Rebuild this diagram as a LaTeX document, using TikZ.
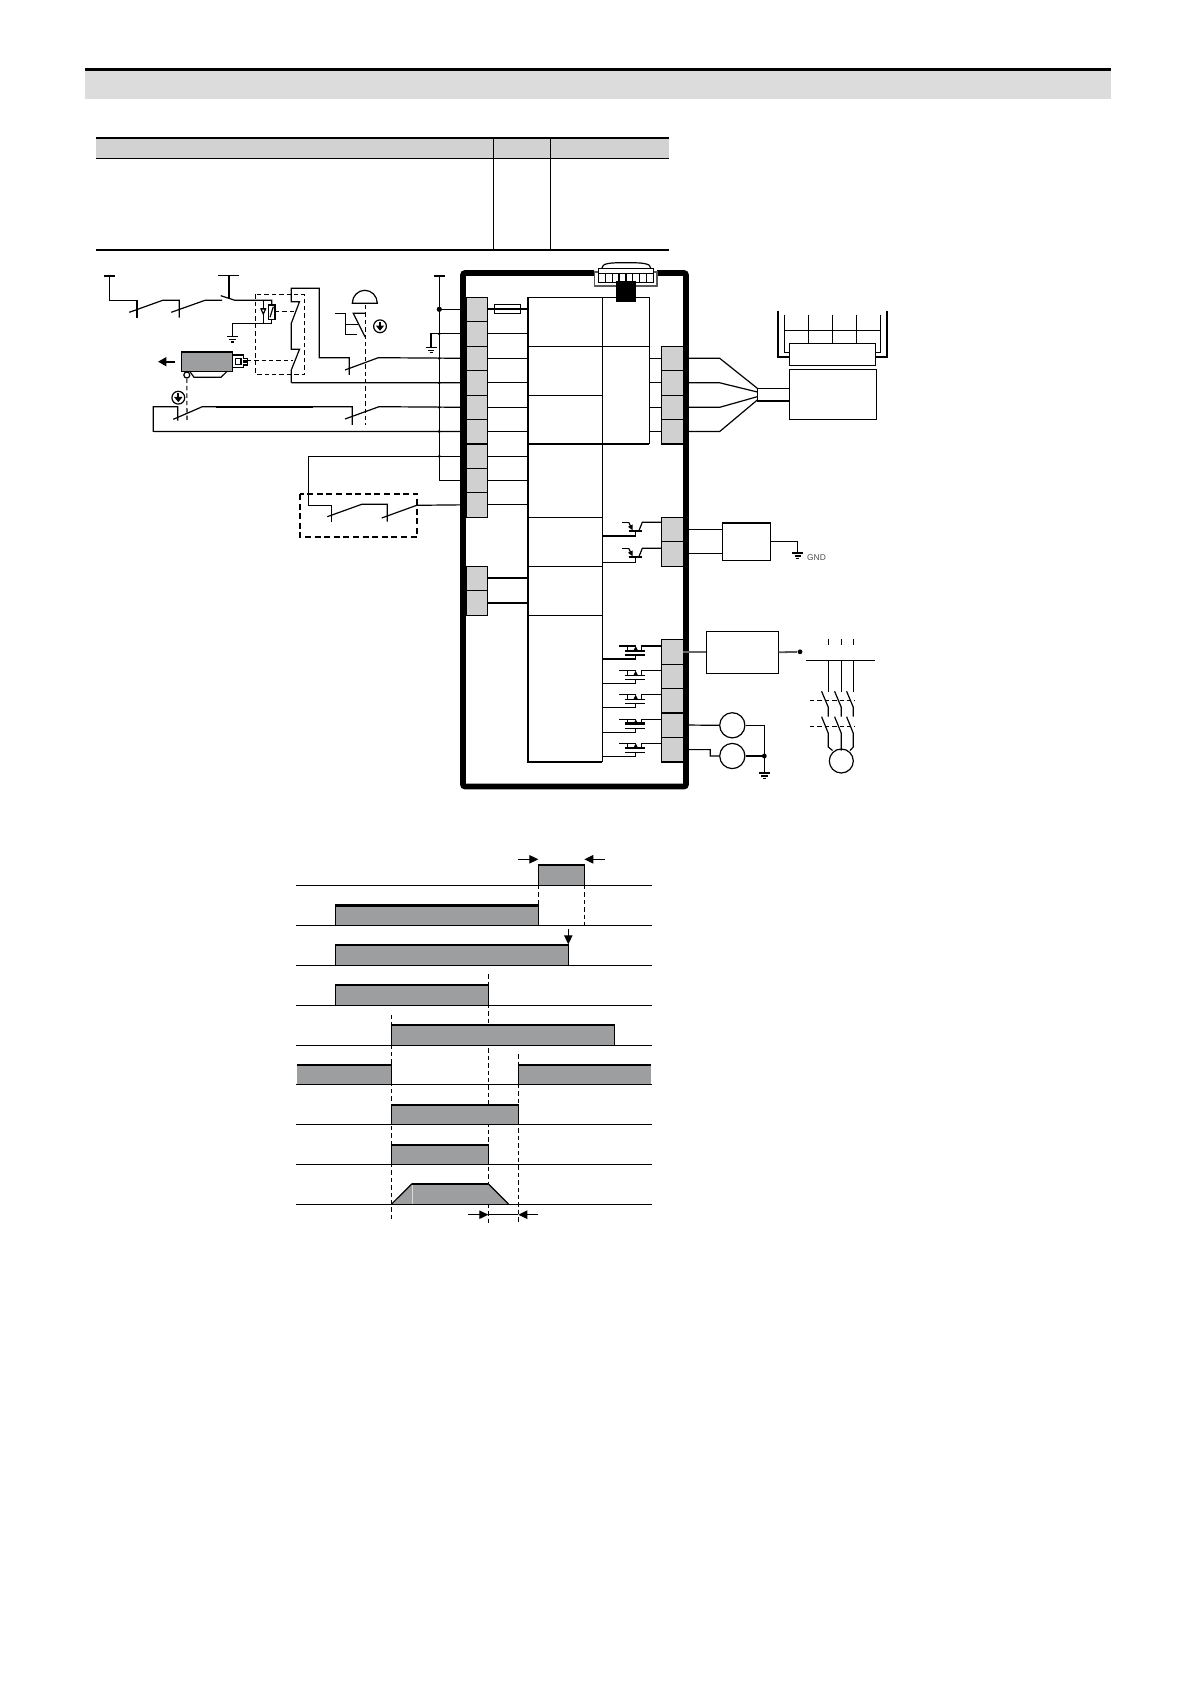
\documentclass[tikz,border=0pt]{standalone}
\usepackage{fontspec}
\setmainfont{Liberation Sans}
\usetikzlibrary{arrows.meta,calc}
\definecolor{termgrey}{HTML}{D0D0D0}
\definecolor{hdrgrey}{HTML}{DCDCDC}
\definecolor{tblgrey}{HTML}{D2D2D2}
\definecolor{bargrey}{HTML}{9C9EA0}
\tikzset{
  wire/.style={line width=0.6pt,line join=miter},
  hv/.style={line width=1.1pt},
  dsh/.style={line width=0.55pt,dash pattern=on 2.2pt off 1.5pt},
  term/.style={draw,line width=0.55pt,fill=termgrey},
  cell/.style={draw,line width=0.6pt},
  jdot/.style={circle,fill=black,inner sep=0pt,minimum size=2pt},
  ring/.style={circle,draw,line width=0.6pt,inner sep=0pt,fill=white},
  tiptri/.style={-{Triangle[length=4.5pt,width=4.2pt]}},
}
\newcommand\mkbox[6][]{%
  \pgfmathsetmacro\bxw{(#5-#3)*0.5}\pgfmathsetmacro\bxh{(#6-#4)*0.5}%
  \node[#1,minimum width=\bxw pt,minimum height=\bxh pt,inner sep=0pt,outer sep=0pt] (#2) at ({(#3+#5)/2},{(#4+#6)/2}) {};}
\newcommand\gndsym[2]{% x, y of top bar
  \draw[wire] (#1-5.5,#2)--(#1+5.5,#2) (#1-3.2,#2+3)--(#1+3.2,#2+3) (#1-1.5,#2+5.6)--(#1+1.5,#2+5.6);}
\newcommand\ringarrow[2]{%
  \draw[line width=0.6pt] (#1,#2) circle (6.4);
  \draw[line width=0.9pt,-{Triangle[length=2.6pt,width=4pt]}] (#1,#2-4.5)--(#1,#2+4.5);}
\newcommand\bjt[2]{% y of collector wire, y of base wire
  \draw[wire] (622,#1)--(628.7,#1);
  \draw[wire,-{Triangle[length=2.6pt,width=2.4pt]}] (628.7,#1)--(632.6,#1+8);
  \draw[wire] (661.3,#1)--(642.3,#1)--(638.9,#1+8.4);
  \draw[line width=1.1pt] (628.7,#1+8.4)--(642,#1+8.4);
  \draw[wire] (635.7,#1+8.4)--(635.7,#2)--(602.3,#2);}
\newcommand\fet[2]{% y of drain wire, y of gate wire
  \draw[wire] (619.3,#1)--(635.7,#1) (627.3,#1)--(627.3,#1+5);
  \draw[wire,-{Triangle[length=2.2pt,width=2pt]}] (635.7,#1+5)--(635.7,#1);
  \draw[wire] (661.3,#1)--(641.7,#1)--(641.7,#1+5);
  \draw[wire] (625,#1+5)--(645,#1+5) (625,#1+9)--(645,#1+9);
  \draw[wire] (635.7,#1+9)--(635.7,#2)--(602.3,#2);}
\newcommand\tbar[4]{% x1,x2,ytop,ybase
  \fill[bargrey] (#1,#3) rectangle (#2,#4);
  \draw[wire] (#1,#4)--(#1,#3) (#2,#3)--(#2,#4);
  \draw[line width=1.2pt] (#1-0.5,#3)--(#2+0.5,#3);}
\begin{document}
\begin{tikzpicture}[x=0.5pt,y=-0.5pt]
\useasboundingbox (0,0) rectangle (1191,1684);
% page header
\fill[hdrgrey] (85,70) rectangle (1111,99);
\draw[line width=1.5pt] (85,69.5)--(1111,69.5);
% table
\fill[tblgrey] (96,138) rectangle (669,158.5);
\draw[line width=1.1pt] (96,137.7)--(669,137.7);
\draw[wire] (96,158.5)--(669,158.5);
\draw[line width=1.1pt] (96,250)--(669,250);
\draw[wire] (493.5,138)--(493.5,250) (550.5,138)--(550.5,250);
% central blocks
\mkbox[cell]{a1}{528}{297.3}{602.3}{346.3}
\mkbox[cell]{a2}{528}{346.3}{602.3}{395.3}
\mkbox[cell]{a3}{528}{395.3}{602.3}{443.7}
\mkbox[cell]{a4}{528}{443.7}{602.3}{517.3}
\mkbox[cell]{a5}{528}{517.3}{602.3}{566.3}
\mkbox[cell]{a6}{528}{566.3}{602.3}{615.3}
\mkbox[cell]{a7}{528}{615.3}{602.3}{761.7}
\mkbox[cell]{b1}{602.3}{297.3}{649.3}{346.3}
\mkbox[cell]{b2}{602.3}{346.3}{649.3}{443.7}
\draw[hv] (528,297.3)--(528,761.7)--(602.3,761.7);
\draw[hv] (528,443.7)--(649.3,443.7);
% terminals, left
\mkbox[term]{L1}{466}{297.3}{487.7}{321.3}
\mkbox[term]{L2}{466}{321.3}{487.7}{346.3}
\mkbox[term]{L3}{466}{346.3}{487.7}{370.3}
\mkbox[term]{L4}{466}{370.3}{487.7}{395.3}
\mkbox[term]{L5}{466}{395.3}{487.7}{419.3}
\mkbox[term]{L6}{466}{419.3}{487.7}{443.7}
\mkbox[term]{L7}{466}{444.1}{487.7}{468.7}
\mkbox[term]{L8}{466}{468.3}{487.7}{492.3}
\mkbox[term]{L9}{466}{492.3}{487.7}{517.3}
\mkbox[term]{P1}{466}{566.3}{487.7}{590.3}
\mkbox[term]{P2}{466}{590.3}{487.7}{615.3}
% terminals, right
\mkbox[term]{R1}{661.3}{346.3}{683.3}{370.3}
\mkbox[term]{R2}{661.3}{370.3}{683.3}{395.3}
\mkbox[term]{R3}{661.3}{395.3}{683.3}{419.3}
\mkbox[term]{R4}{661.3}{419.3}{683.3}{443.7}
\mkbox[term]{S1}{661.3}{517.3}{683.3}{541.3}
\mkbox[term]{S2}{661.3}{541.3}{683.3}{566.3}
\mkbox[term]{T1}{661.3}{639.7}{683.3}{664.3}
\mkbox[term]{T2}{661.3}{664.3}{683.3}{688.3}
\mkbox[term]{T3}{661.3}{688.3}{683.3}{712.7}
\mkbox[term]{T4}{661.3}{712.7}{683.3}{737.3}
\mkbox[term]{T5}{661.3}{737.3}{683.3}{762}
\draw[hv] (466,443.7)--(487.7,443.7) (661.3,443.7)--(683.3,443.7) (661.3,712.7)--(683.3,712.7) (661.3,762)--(683.3,762);
% wires inside, left
\draw[hv] (L1.east)--(L1.east -| a1.west);
\mkbox[draw,line width=0.55pt]{fuse}{494.3}{304.3}{520.7}{313.3}
\foreach \n/\c in {L2/a1,L3/a2,L4/a2,L5/a3,L6/a3,L7/a4,L8/a4,L9/a4}
  \draw[wire] (\n.east)--(\n.east -| \c.west);
\draw[hv] (P1.east)--(P1.east -| a6.west) (P2.east)--(P2.east -| a6.west);
% wires inside, right
\foreach \n/\c in {R1/b2,R2/b2,R3/b2,R4/b2}
  \draw[wire] (\n.west)--(\n.west -| \c.east);
\bjt{522.3}{536}
\bjt{548.3}{562.3}
\fet{646}{659}
\fet{670.7}{683.3}
\fet{694.7}{707.3}
\fet{719.3}{732.3}
\fet{743.3}{756.3}
\draw[hv] (602.3,659)--(635.7,659);
\draw[hv] (625,723.3)--(645,723.3) (625,743.3+5)--(645,743.3+5);
% bus
\coordinate (busT) at (439.3,276);
\coordinate (busB) at (439.3,480.3);
\draw[wire] (434,276)--(444.7,276);
\draw[wire] (busT)--(busB)--(L8.west);
\draw[wire] (busT |- L1.west)--(L1.west);
\node[jdot,minimum size=2.6pt] (j1) at (busT |- L1.west) {};
\coordinate (g1) at (431,346.7);
\draw[wire] (L2.west)--(g1 |- L2.west)--(g1);
\gndsym{431}{347.2}
\foreach \n in {L2,L3,L4,L5,L6,L7}
  \node[jdot,minimum size=1.6pt] at (busT |- \n.west) {};
% top left chain
\draw[wire] (104,276)--(115,276);
\draw[wire] (109.3,276)--(109.3,300.3)--(137,300.3);
\draw[line width=1pt] (137,300.3)--(137,317.7);
\draw[wire] (129.3,312.3)--(162.7,300.3)--(179.3,300.3)--(179.3,317.7);
\draw[wire] (171.3,312.3)--(205,300.3)--(222,300.3);
\draw[wire] (218.3,275.7)--(239,275.7);
\draw[wire] (229,275.7)--(229,299);
\draw[wire] (220.7,295.7)--(235,300.3)--(271.7,300.3)--(271.7,305);
% relay
\draw[dsh] (255.7,294.3) rectangle (304.3,374.3);
\draw[wire] (263.3,300.3)--(263.3,323.3);
\draw[wire,fill=white] (261,309)--(265.6,309)--(263.3,314)--cycle;
\draw[line width=0.8pt] (260.5,308.5)--(266,308.5);
\mkbox[draw,line width=0.6pt]{coil}{268.3}{305}{275}{319.7}
\draw[wire] (270,317.3)--(273.3,306.7);
\draw[wire] (271.7,319.7)--(271.7,323.3)--(232.3,323.3)--(232.3,336);
\gndsym{232.3}{336.5}
\draw[dsh] (275,311.3)--(294,311.3);
\draw[dsh] (246.7,360.7)--(293.3,360.7);
% safety contacts
\draw[wire] (291.3,382.7)--(291.3,370)--(299.5,349.3)--(291.3,349.3)--(291.3,323.3)--(299.5,301.7)--(291.3,301.7)--(291.3,288.3)--(319.3,288.3)--(319.3,357.7)--(349.3,357.7)--(349.3,375);
\draw[wire] (345,370)--(378.3,357.7)--(L3.west);
\draw[wire] (291.3,382.7)--(L4.west);
% gate switch
\draw[wire,fill=white] (232.3,355)--(243.3,355)--(243.3,358.3)--(247.7,358.3)--(247.7,361)--(243.8,361)--(243.8,362.5)--(247.7,362.5)--(247.7,365)--(243.3,365)--(243.3,367.7)--(232.3,367.7)--cycle;
\draw[wire] (235.2,358.3) rectangle (241,364.3);
\mkbox[draw,line width=0.6pt,fill=bargrey]{gsw}{181.5}{352}{232.5}{371.7}
\draw[line width=1.1pt] (181.5,352)--(232.5,352);
\draw[wire] (190,371.7)--(194,377.3)--(221,377.3)--(226.7,371.7);
\draw[line width=1.1pt,-{Triangle[length=4.2pt,width=4.4pt]}] (175,361.7)--(158,361.7);
\node[ring,minimum size=3pt] (gr) at (186.8,375) {};
\draw[dsh] (gr.south)--(187,420);
\ringarrow{178.3}{397.7}
% lower contacts
\draw[wire] (L6.west)--(153.3,431.4)--(153.3,406.7)--(177.7,406.7)--(177.7,420.7);
\draw[wire] (173.3,419.3)--(202.3,406.7)--(352.3,406.7)--(352.3,425);
\draw[hv] (216,406.7)--(313,406.7);
\draw[wire] (345,419)--(379,406.7)--(L5.west);
% e-stop
\draw[wire,fill=white] (352.3,303.3) arc[start angle=180,end angle=360,x radius=12.5,y radius=13]--cycle;
\draw[dsh] (365.3,305)--(365.3,425);
\draw[wire] (335,313.3)--(345.7,313.3)--(345.7,334.3)--(356.7,334.3);
\draw[wire] (345.7,324.3)--(358,324.3);
\draw[wire] (365,313.3)--(353.3,313.3)--(365,336.7);
\ringarrow{380}{326.3}
% lower left
\draw[wire] (L7.west)--(L7.west -| 308.3,0)--(308.3,505.3)--(331.7,505.3)--(331.7,521.7);
\draw[wire] (327.3,516.7)--(361.7,504.3)--(387.3,504.3)--(387.3,521.7);
\draw[wire] (381.7,518)--(416.7,505.3)--(L9.west);
\draw[line width=0.85pt,dash pattern=on 3pt off 1.8pt] (299.7,494) rectangle (417.3,536.7);
% frame
\draw[line width=2.8pt,rounded corners=1pt] (594,273)--(463,273)--(463,786.5)--(686,786.5)--(686,273)--(657,273);
% keypad
\draw[line width=0.55pt,draw=black!65,fill=white] (594.3,272)--(594.3,286)--(657,286)--(657,272)--cycle;
\draw[wire,fill=white] (601.7,268.7) .. controls (601.7,263) and (610,262.7) .. (626,262.7) .. controls (642,262.7) and (651,263) .. (651,268.7);
\mkbox[draw,line width=0.6pt,fill=white]{pad}{598.3}{268.7}{653.7}{282.3}
\draw[wire] (598.3,273.3)--(653.7,273.3);
\foreach \x in {605.7,612.7,632.7,639.7,646.3}
  \draw[wire] (\x,273.3)--(\x,282.3);
\draw[hv] (619.3,273.3)--(619.3,282.3) (625.7,273.3)--(625.7,282.3);
\mkbox[fill=black]{plug}{616}{281}{636}{302}
% encoder side
\mkbox[draw,line width=0.6pt]{hdr}{757.3}{388.3}{789.3}{401}
\draw[hv] (757.3,401)--(789.3,401);
\mkbox[draw,line width=0.6pt]{ctl}{789.3}{369.3}{876.7}{419.3}
\mkbox[draw,line width=0.6pt]{plc}{789.3}{343.3}{875.7}{365.3}
\draw[wire] (R1.east)--(719.7,358.3)--(757.3,388.3);
\draw[wire] (R2.east)--(719.7,382.8)--(757.3,392);
\draw[wire] (R3.east)--(719.7,407.3)--(757.3,396.7);
\draw[wire] (R4.east)--(719.7,431.5)--(757.3,400);
\draw[line width=0.9pt] (778.3,310.7)--(778.3,357)--(plc.west |- 0,357);
\draw[line width=0.9pt] (887,310.7)--(887,357)--(plc.east |- 0,357);
\draw[wire] (784.3,315)--(784.3,352.7)--(plc.west |- 0,352.7);
\draw[wire] (880.7,315)--(880.7,352.7)--(plc.east |- 0,352.7);
\draw[wire] (784.3,330.3)--(880.7,330.3);
\foreach \x in {808.7,832.7,856.7}
  \draw[wire] (\x,315)--(\x,343.3);
% output box
\mkbox[draw,line width=0.6pt]{ob}{722.3}{522.7}{770.7}{560.3}
\draw[line width=1.1pt] (722.3,522.7)--(770.7,522.7);
\draw[wire] (S1.east)--(S1.east -| ob.west);
\draw[wire] (S2.east)--(ob.west |- S2.east);
\draw[wire] (ob.east)--(797.7,541.5)--(797.7,552.7);
\gndsym{797.7}{553}
\node[font=\fontsize{4.2pt}{5pt}\selectfont,text=black!70,anchor=west,inner sep=0pt] (gndt) at (806.8,558) {GND};
% contactor
\mkbox[draw,line width=0.6pt]{mc}{706.3}{631.3}{778.7}{673.3}
\draw[wire,draw=black!60] (T1.east)--(T1.east -| mc.west);
\node[jdot,minimum size=2.4pt] (mcd) at (800,651.8) {};
\draw[line width=0.9pt,draw=black!65] (mc.east)--(mcd);
\foreach \x in {828.3,841.3,853.3}
  \draw[wire] (\x,638.7)--(\x,645);
\draw[wire] (806,660.3)--(875,660.3);
\node[ring,minimum size=12pt] (mtr) at (841.3,761) {};
\foreach \x/\e in {828.3/832.5,841.3/841.3,853.3/850}{
  \draw[wire] (\x,660.3)--(\x,691.7);
  \draw[wire] (\x-6.7,691.3)--(\x,707.3)--(\x,716.7);
  \draw[wire] (\x-6.7,716.7)--(\x,733.3)--(\x,747)--(\e,750.5);
}
\draw[dsh] (810,700.3)--(855,700.3) (810,726.3)--(855,726.3);
% resistors
\node[ring,minimum size=12.6pt] (r1) at (732.3,725.3) {};
\node[ring,minimum size=12.6pt] (r2) at (732.3,756) {};
\draw[wire] (T4.east)--(r1.west);
\draw[wire] (T5.east)--(710.3,749.6)--(710.3,756)--(r2.west);
\draw[wire] (r1.east)--(764.3,725.3)--(764.3,772.5);
\draw[wire] (r2.east)--(764.3,756);
\node[jdot,minimum size=2.4pt] (rj) at (764.3,756) {};
\gndsym{764.3}{773}
% dashed guides (behind the bars)
\draw[dsh] (538.3,885)--(538.3,925);
\draw[dsh] (584.3,885)--(584.3,925);
\draw[dsh] (488.3,974.3)--(488.3,1225);
\draw[dsh] (391.3,1015)--(391.3,1220);
\draw[dsh] (518.3,1054.3)--(518.3,1223);
% timing chart bars
\tbar{538.3}{584.3}{865}{885.3}
\tbar{335.3}{538.3}{905.3}{925.3}
\tbar{335.3}{568.3}{945}{965.3}
\tbar{335.3}{488.3}{985}{1005.3}
\tbar{391.3}{614.3}{1024.7}{1045.3}
\fill[bargrey] (297,1065) rectangle (391.3,1084.3);
\draw[wire] (391.3,1065)--(391.3,1084.3);
\draw[line width=1.2pt] (297,1065)--(391.8,1065);
\fill[bargrey] (518.3,1065) rectangle (650.7,1084.3);
\draw[wire] (518.3,1065)--(518.3,1084.3);
\draw[line width=1.2pt] (517.8,1065)--(650.7,1065);
\tbar{391.3}{518.3}{1105}{1124.3}
\tbar{391.3}{488.3}{1144.7}{1164.3}
\fill[bargrey] (391.3,1204.3)--(412,1183.7)--(488.3,1183.7)--(508.7,1204.3)--cycle;
\draw[line width=0.3pt,draw=white!85!black] (412,1183.7)--(412,1204.3);
\draw[wire] (391.3,1204.3)--(412,1183.7) (488.3,1183.7)--(508.7,1204.3);
\draw[line width=1.2pt] (412,1183.7)--(488.3,1183.7);
% timing chart baselines
\foreach \y in {885.3,925.3,965.3,1005.3,1045.3,1084.3,1124.3,1164.3,1204.3}
  \draw[wire] (295.7,\y)--(651.7,\y);
% arrows
\coordinate (ta) at (538.3,859.3);
\coordinate (tb) at (584.3,859.3);
\coordinate (tc) at (568.3,944.3);
\coordinate (td) at (488.3,1214.7);
\coordinate (te) at (518.3,1214.7);
\draw[wire,tiptri] (518.3,859.3)--(ta);
\draw[wire,tiptri] (605,859.3)--(tb);
\draw[wire,tiptri] (568.3,929.3)--(tc);
\draw[wire,tiptri] (468.3,1214.7)--(td);
\draw[wire,tiptri] (538.3,1214.7)--(te);
\draw[wire] (td)--(te);
\end{tikzpicture}
\end{document}
